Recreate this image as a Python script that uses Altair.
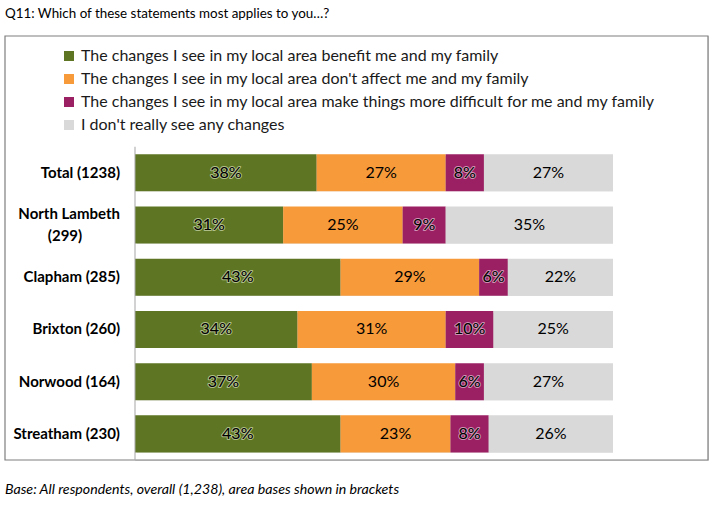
import altair as alt
import pandas as pd

title_text = "Q11: Which of these statements most applies to you\u2026?"
footer_text = "Base: All respondents, overall (1,238), area bases shown in brackets"

categories = ["Total (1238)", "North Lambeth (299)", "Clapham (285)",
              "Brixton (260)", "Norwood (164)", "Streatham (230)"]
label_line1 = ["Total (1238)", "North Lambeth", "Clapham (285)",
               "Brixton (260)", "Norwood (164)", "Streatham (230)"]
label_line2 = ["", "(299)", "", "", "", ""]

series = ["The changes I see in my local area benefit me and my family",
          "The changes I see in my local area don't affect me and my family",
          "The changes I see in my local area make things more difficult for me and my family",
          "I don't really see any changes"]
benefit = [38, 31, 43, 34, 37, 43]
no_affect = [27, 25, 29, 31, 30, 23]
difficult = [8, 9, 6, 10, 6, 8]
no_change = [27, 35, 22, 25, 27, 26]

colors = ["#5e7623", "#f79a3a", "#9b1f63", "#d9d9d9"]
halos = ["#d5e0b8", None, "#e8c6d8", None]

rows = []
for s_i, (name, vals) in enumerate(zip(series, [benefit, no_affect, difficult, no_change])):
    for r_i, v in enumerate(vals):
        rows.append({"row": r_i, "category": categories[r_i], "series": name,
                     "order": s_i, "value": v / 100.0, "label": f"{v}%",
                     "halo": halos[s_i] or ""})
df = pd.DataFrame(rows)
cat_df = pd.DataFrame({"row": list(range(len(categories))), "l1": label_line1,
                       "l2": label_line2, "tot": [1.0] * len(categories)})

FONT = "Lato"
# plot area: x 135..708, y 36..460
W, H = 573, 424
xscale = alt.Scale(domain=[0, 573 / 478])
yscale = alt.Scale(domain=[-2.62, 5.5], reverse=True)

base = alt.Chart(df).transform_stack(
    stack="value", groupby=["row"], as_=["x0", "x1"], sort=[alt.SortField("order")]
).transform_calculate(
    ylo="datum.row - 0.355", yhi="datum.row + 0.355", mid="(datum.x0 + datum.x1) / 2"
)

box = alt.Chart(pd.DataFrame({"k": [0]})).mark_rect(
    fill="white", stroke="#7f7f7f", strokeWidth=1.2
).encode(x=alt.value(-130), x2=alt.value(W), y=alt.value(0), y2=alt.value(H))

shadow = alt.Chart(cat_df).transform_calculate(
    ylo="datum.row - 0.355", yhi="datum.row + 0.355", zero="0"
).mark_bar(color="#b0b0b0", opacity=0.55, xOffset=2, yOffset=2).encode(
    x=alt.X("zero:Q", scale=xscale, axis=None),
    x2="tot:Q",
    y=alt.Y("ylo:Q", scale=yscale, axis=None),
    y2="yhi:Q",
)

bars = base.mark_bar().encode(
    x=alt.X("x0:Q", scale=xscale, axis=None),
    x2="x1:Q",
    y=alt.Y("ylo:Q", scale=yscale, axis=None),
    y2="yhi:Q",
    color=alt.Color("series:N", sort=series,
                    scale=alt.Scale(domain=series, range=colors),
                    legend=alt.Legend(title=None, orient="none", legendX=-74, legendY=12,
                                      symbolType="square", symbolSize=100,
                                      symbolStrokeWidth=0, labelFont=FONT,
                                      labelFontSize=16, labelColor="#1a1a1a",
                                      rowPadding=7, labelLimit=700)),
)

halo_text = base.transform_filter("datum.halo != ''").mark_text(
    font=FONT, fontSize=16, strokeWidth=2, strokeJoin="round", strokeOpacity=0.7
).encode(
    x=alt.X("mid:Q", scale=xscale, axis=None),
    y=alt.Y("row:Q", scale=yscale, axis=None),
    text="label:N",
    stroke=alt.Stroke("halo:N", scale=None, legend=None),
)

text = base.mark_text(font=FONT, fontSize=16, color="#000000").encode(
    x=alt.X("mid:Q", scale=xscale, axis=None),
    y=alt.Y("row:Q", scale=yscale, axis=None),
    text="label:N",
)

cat_style = dict(font=FONT, fontSize=15, fontWeight="bold", color="#000000",
                 baseline="middle")

cat_one = alt.Chart(cat_df).transform_filter("datum.l2 == ''").mark_text(
    align="right", dx=-15, **cat_style
).encode(x=alt.value(0), y=alt.Y("row:Q", scale=yscale, axis=None), text="l1:N")

cat_top = alt.Chart(cat_df).transform_filter("datum.l2 != ''").mark_text(
    align="right", dx=-15, dy=-11, **cat_style
).encode(x=alt.value(0), y=alt.Y("row:Q", scale=yscale, axis=None), text="l1:N")

cat_bottom = alt.Chart(cat_df).transform_filter("datum.l2 != ''").mark_text(
    align="center", dx=-70, dy=11, **cat_style
).encode(x=alt.value(0), y=alt.Y("row:Q", scale=yscale, axis=None), text="l2:N")

axis_line = alt.Chart(pd.DataFrame({"a": [-0.5], "b": [5.5]})).mark_rect(
    color="#a6a6a6"
).encode(
    x=alt.value(-0.5), x2=alt.value(0.5),
    y=alt.Y("a:Q", scale=yscale, axis=None),
    y2="b:Q",
)

# white strip hiding any stray vertical line above the bar area
cover = alt.Chart(pd.DataFrame({"k": [0]})).mark_rect(fill="white").encode(
    x=alt.value(-2), x2=alt.value(2), y=alt.value(1), y2=alt.value(110)
)

title = alt.Chart(pd.DataFrame({"t": [title_text]})).mark_text(
    font=FONT, fontSize=13.4, align="left", baseline="middle", color="#000000"
).encode(x=alt.value(-130), y=alt.value(-22), text="t:N")

footer = alt.Chart(pd.DataFrame({"t": [footer_text]})).mark_text(
    font=FONT, fontSize=14.2, fontStyle="italic", align="left", baseline="middle",
    color="#000000"
).encode(x=alt.value(-130), y=alt.value(454), text="t:N")

chart = alt.layer(box, shadow, bars, axis_line, cover, halo_text, text,
                  cat_one, cat_top, cat_bottom, title, footer).properties(
    width=W, height=H,
    padding={"left": 135, "top": 36, "right": 12, "bottom": 50},
    autosize=alt.AutoSizeParams(type="none"),
).configure_view(stroke="transparent", strokeWidth=0).configure(background="white")

chart.save("out.html", embed_options={"renderer": "svg", "actions": False})
